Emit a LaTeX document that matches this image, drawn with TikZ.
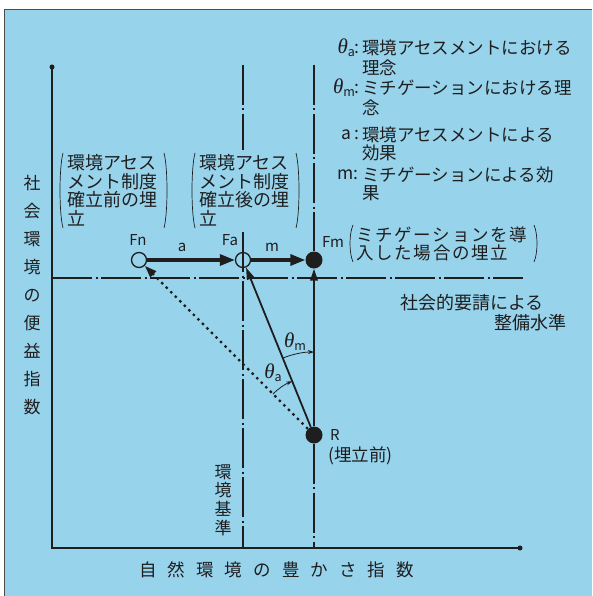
\documentclass[tikz,border=0pt]{standalone}
\usepackage{fontspec}
\setmainfont{Noto Sans CJK JP}
\newfontfamily\jpwide[LetterSpace=10]{Noto Sans CJK JP}
\newfontfamily\thfont{Liberation Serif}
\usetikzlibrary{arrows.meta}
\definecolor{bg}{RGB}{152,211,236}
\definecolor{ink}{RGB}{30,30,30}
\newcommand\xgap{\hspace{11.1pt}}
\newcommand\thsym[1]{{\thfont\itshape\fontsize{21}{21}\selectfont θ}\raisebox{-3pt}{\fontsize{12.5}{12.5}\selectfont #1}}
\begin{document}
\begin{tikzpicture}[x=1pt,y=1pt,
  jp/.style={inner sep=0pt, text=ink, font=\fontsize{17.5}{20}\selectfont},
  lat/.style={inner sep=0pt, text=ink, font=\fontsize{15}{15}\selectfont},
  axisline/.style={draw=ink, line width=1.3pt},
  dd/.style={draw=ink, line width=1.1pt, dash pattern=on 40pt off 3.5pt on 2pt off 3.5pt},
  thickarrow/.style={draw=ink, line width=3.2pt, -{Triangle[length=15pt,width=11pt]}},
  thinarrow/.style={draw=ink, line width=1.8pt, -{Triangle[length=12pt,width=7.5pt]}},
  dotarrow/.style={draw=ink, line width=2.4pt, dash pattern=on 2.4pt off 4pt, -{Triangle[length=12pt,width=8pt]}},
  angarrow/.style={draw=ink, line width=0.8pt, -{Stealth[length=6pt,width=4pt]}},
  paren/.style={draw=ink, line width=0.7pt},
  opendot/.style={circle, draw=ink, line width=1.3pt, minimum size=15pt, inner sep=0pt},
  fulldot/.style={circle, fill=ink, minimum size=17pt, inner sep=0pt}]
\useasboundingbox (0,0) rectangle (592,-596);
\fill[white] (0,0) rectangle (592,-596);
\fill[bg] (4,-9) rectangle (592,-596);
\draw[gray!60!black, line width=0.8pt] (4,-596) -- (4,-9) -- (592,-9);

% axes
\coordinate (O) at (52,-548);
\coordinate (Ytop) at (52,-67);
\coordinate (Xend) at (520,-548);
\draw[axisline] (Ytop) -- (O) -- (Xend);
\fill[ink] (Ytop) circle (2.5);
\fill[ink] (Xend) circle (2.5);

% points
\node[opendot] (Fn) at (139,-260) {};
\node[opendot] (Fa) at (243,-260) {};
\node[fulldot] (Fm) at (314,-260) {};
\node[fulldot] (R) at (314,-435) {};

% dash-dot reference lines
\coordinate (faT) at (243,-65);
\coordinate (faM1) at (243,-150);
\coordinate (faM2) at (243,-232);
\coordinate (faB) at (243,-548);
\draw[dd] (faT) -- (faM1);
\draw[dd] (faM2) -- (faB);
\coordinate (fmT) at (314,-65);
\coordinate (fmB) at (314,-548);
\draw[dd] (fmT) -- (Fm.north);
\draw[dd] (R.south) -- (fmB);
\coordinate (hL) at (52,-278);
\coordinate (hR) at (523,-278);
\draw[dd] (hL) -- (hR);

% arrows
\draw[thickarrow] (Fn) -- (Fa);
\draw[thickarrow] (Fa) -- (Fm);
\draw[thinarrow] (R) -- (Fa);
\draw[thinarrow] (R) -- (Fm);
\draw[dotarrow] (R) -- (Fn);

% angle arcs
\draw[angarrow] ([shift={(112.09:83)}]R.center) arc[start angle=112.09, end angle=90, radius=83];
\draw[angarrow] ([shift={(135:58)}]R.center) arc[start angle=135, end angle=112.09, radius=58];
\node[lat] (tm) at (295,-342) {\thsym{m}};
\node[lat] (ta) at (273,-373) {\thsym{a}};

% point labels
\node[lat] (lFn) at (138,-240) {Fn};
\node[lat] (lFa) at (230,-240) {Fa};
\node[lat] (la) at (182,-247) {a};
\node[lat] (lm) at (272,-247) {m};
\node[lat] (lFm) at (333,-242) {Fm};
\node[lat] (lR) at (335,-435) {R};
\node[jp, anchor=west] (lRb) at (328,-456) {(埋立前)};

% axis labels
\node[jp, font=\fontsize{17}{28}\selectfont, align=center] (ylab) at (32,-295.5) {社\\会\\環\\境\\の\\便\\益\\指\\数};
\node[jp] (xlab) at (276.5,-570) {自\xgap 然\xgap 環\xgap 境\xgap の\xgap 豊\xgap か\xgap さ\xgap 指\xgap 数};
\node[jp, font=\fontsize{17}{18.7}\selectfont, align=center] (kijun) at (223,-500) {環\\境\\基\\準};

% bracketed blocks
\foreach \t [count=\i] in {環境アセス,メント制度,確立前の埋,立}
  \node[jp, font=\fontsize{18}{18}\selectfont, anchor=west] (bn\i) at (67,{-163-18.3*(\i-1)}) {\t};
\foreach \t [count=\i] in {環境アセス,メント制度,確立後の埋,立}
  \node[jp, font=\fontsize{18}{18}\selectfont, anchor=west] (ba\i) at (199,{-163-18.3*(\i-1)}) {\t};
\draw[paren] (63,-153) .. controls (59,-168) and (59,-213) .. (63,-228);
\draw[paren] (164,-153) .. controls (168,-168) and (168,-213) .. (164,-228);
\draw[paren] (195,-153) .. controls (191,-168) and (191,-213) .. (195,-228);
\draw[paren] (296,-153) .. controls (300,-168) and (300,-213) .. (296,-228);

% Fm block
\node[jp, font=\jpwide\fontsize{17.5}{18}\selectfont, anchor=west] (fm1) at (356,-235) {ミチゲーションを導};
\node[jp, font=\jpwide\fontsize{17.5}{18}\selectfont, anchor=west] (fm2) at (356,-253) {入した場合の埋立};
\draw[paren] (353,-225) .. controls (349,-234) and (349,-253) .. (353,-262);
\draw[paren] (534,-225) .. controls (538,-234) and (538,-253) .. (534,-262);

% level label
\node[jp, font=\fontsize{18}{18}\selectfont, anchor=west] (lv1) at (400,-303) {社会的要請による};
\node[jp, font=\fontsize{18}{18}\selectfont, anchor=west] (lv2) at (494,-323) {整備水準};

% legend
\node[jp, anchor=east] (k1) at (360,-48) {\thsym{a}:};
\node[jp, anchor=west] (d1a) at (362,-48) {環境アセスメントにおける};
\node[jp, anchor=west] (d1b) at (362,-68) {理念};
\node[jp, anchor=east] (k2) at (360,-88) {\thsym{m}:};
\node[jp, anchor=west] (d2a) at (362,-88) {ミチゲーションにおける理};
\node[jp, anchor=west] (d2b) at (362,-108) {念};
\node[jp, anchor=east] (k3) at (360,-135) {a :};
\node[jp, anchor=west] (d3a) at (362,-135) {環境アセスメントによる};
\node[jp, anchor=west] (d3b) at (362,-153) {効果};
\node[jp, anchor=east] (k4) at (359,-175) {m:};
\node[jp, anchor=west] (d4a) at (362,-175) {ミチゲーションによる効};
\node[jp, anchor=west] (d4b) at (362,-193) {果};
\end{tikzpicture}
\end{document}
